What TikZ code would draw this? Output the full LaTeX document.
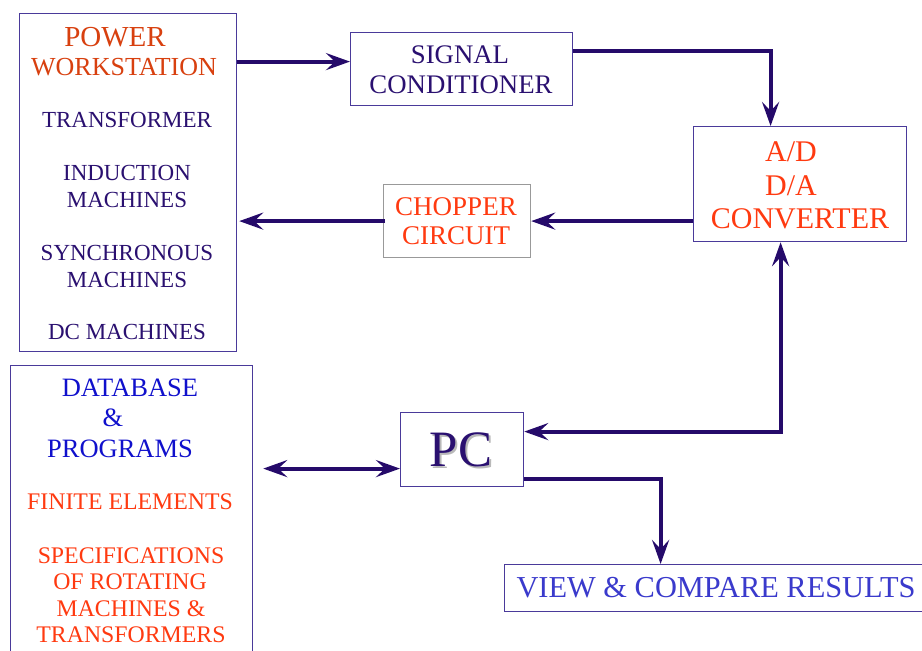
\documentclass[tikz,border=0pt]{standalone}
\usepackage{fontspec}
\setmainfont{Liberation Serif}
\usetikzlibrary{arrows.meta,calc}
\definecolor{lnc}{HTML}{250A6A}
\definecolor{bdc}{HTML}{4A3A9A}
\definecolor{dkt}{HTML}{2A1070}
\definecolor{ort}{HTML}{D8400F}
\definecolor{brt}{HTML}{FF3A10}
\definecolor{blt}{HTML}{1010CC}
\definecolor{vwt}{HTML}{3A3ACC}
\tikzset{
  box/.style={draw=bdc, line width=1.2pt, rectangle, anchor=north west, inner sep=0pt, fill=white},
  gbox/.style={box, draw=gray!80},
  tip/.tip={Stealth[length=24pt,width=17pt,inset=9pt]},
  arr/.style={draw=lnc, line width=4pt, -tip},
  arrb/.style={draw=lnc, line width=4pt, tip-tip},
  dtx/.style={text=dkt, font=\fontsize{23}{26}\selectfont, inner sep=0pt},
  otx/.style={text=ort, font=\fontsize{26}{29}\selectfont, inner sep=0pt},
  rtx/.style={text=brt, font=\fontsize{27}{30}\selectfont, inner sep=0pt},
  btx/.style={text=blt, font=\fontsize{26.5}{29}\selectfont, inner sep=0pt},
}
\begin{document}
\begin{tikzpicture}[x=1pt,y=-1pt]
\useasboundingbox (0,0) rectangle (922,651);
\begin{scope}
\clip (0,0) rectangle (922,651);
% boxes
\node[box, minimum width=217pt, minimum height=338pt] (pw) at (19,13) {};
\node[box, minimum width=222pt, minimum height=73pt] (sc) at (350,32) {};
\node[box, minimum width=213pt, minimum height=115pt] (ad) at (693,126) {};
\node[gbox, minimum width=147pt, minimum height=73pt] (ch) at (383,184) {};
\node[box, minimum width=123pt, minimum height=74pt] (pc) at (400,412) {};
\node[box, minimum width=242pt, minimum height=320pt] (db) at (10,365) {};
\node[box, minimum width=430pt, minimum height=47pt] (vw) at (504,564) {};
% power workstation texts
\node[otx, font=\fontsize{29}{32}\selectfont] (p1) at (115,37) {POWER};
\node[otx] (p2) at (124,67) {WORKSTATION};
\node[dtx] (p3) at (127,120) {TRANSFORMER};
\node[dtx] (p4) at (127,173) {INDUCTION};
\node[dtx] (p5) at (127,200) {MACHINES};
\node[dtx] (p6) at (127,253) {SYNCHRONOUS};
\node[dtx] (p7) at (127,280) {MACHINES};
\node[dtx] (p8) at (127,332) {DC MACHINES};
% signal conditioner
\node[dtx, font=\fontsize{26.8}{30}\selectfont] (s1) at (460,55) {SIGNAL};
\node[dtx, font=\fontsize{26.8}{30}\selectfont] (s2) at (461,85) {CONDITIONER};
% A/D
\node[rtx, font=\fontsize{30}{33}\selectfont] (a1) at (791,152) {A/D};
\node[rtx, font=\fontsize{30}{33}\selectfont] (a2) at (791,186) {D/A};
\node[rtx, font=\fontsize{30}{33}\selectfont] (a3) at (800,219) {CONVERTER};
% chopper
\node[rtx] (c1) at (456,207) {CHOPPER};
\node[rtx] (c2) at (456,236) {CIRCUIT};
% PC with shadow
\node[text=gray!55, font=\fontsize{51}{54}\selectfont, inner sep=0pt] (pcs) at (463,452) {PC};
\node[text=dkt, font=\fontsize{51}{54}\selectfont, inner sep=0pt] (pct) at (461,450) {PC};
% database
\node[btx] (d1) at (130,388) {DATABASE};
\node[btx] (d2) at (113,418) {\&};
\node[btx] (d3) at (120,449) {PROGRAMS};
\node[rtx, font=\fontsize{23.8}{27}\selectfont] (d4) at (130,502) {FINITE ELEMENTS};
\node[rtx, font=\fontsize{23.8}{27}\selectfont] (d5) at (131,556) {SPECIFICATIONS};
\node[rtx, font=\fontsize{23.8}{27}\selectfont] (d6) at (130,582) {OF ROTATING};
\node[rtx, font=\fontsize{23.8}{27}\selectfont] (d7) at (131,609) {MACHINES \&};
\node[rtx, font=\fontsize{23.8}{27}\selectfont] (d8) at (131,635) {TRANSFORMERS};
% view
\node[text=vwt, font=\fontsize{30.4}{34}\selectfont, inner sep=0pt] (v1) at (716,588) {VIEW \& COMPARE RESULTS};
% connectors
\coordinate (k1) at ([yshift=7.5pt]sc.west);
\draw[arr] (k1 -| pw.east) -- (k1);
\coordinate (k2) at ([yshift=18.5pt]sc.east);
\coordinate (k3) at ([xshift=-29.5pt]ad.north);
\draw[arr] (k2) -| (k3);
\draw[arr] (ad.west |- ch.east) -- (ch.east);
\coordinate (k4) at ([xshift=2pt]pw.east);
\draw[arr] ([xshift=2pt]ch.west) -- (ch.west -| k4);
\coordinate (k5) at ([xshift=-19.5pt]ad.south);
\coordinate (k6) at ([yshift=18pt]pc.east);
\draw[arrb] (k5) |- (k6);
\coordinate (k7) at ([yshift=-19pt]pc.west);
\coordinate (k8) at ([xshift=10pt]db.east);
\draw[arrb] (k7 -| k8) -- (k7);
\coordinate (k9) at ([yshift=-29pt]pc.east);
\coordinate (k10) at ([xshift=-59pt]vw.north);
\draw[arr] (k9) -| (k10);
\end{scope}
\end{tikzpicture}
\end{document}
